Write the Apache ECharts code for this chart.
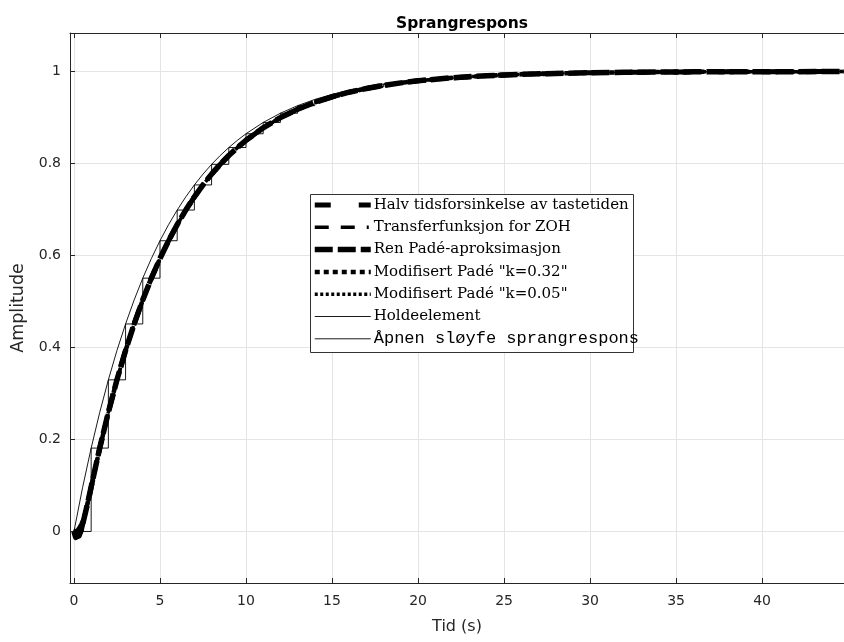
<!DOCTYPE html>
<html>
<head>
<meta charset="utf-8">
<script src="https://cdn.jsdelivr.net/npm/echarts@6/dist/echarts.min.js"></script>
<style>
html,body{margin:0;padding:0;background:#fff;}
#chart{width:844px;height:642px;}
</style>
</head>
<body>
<div id="chart"></div>
<script>
// ---- data ----
const seriesNames = [
  'Halv tidsforsinkelse av tastetiden',
  'Transferfunksjon for ZOH',
  'Ren Padé-aproksimasjon',
  'Modifisert Padé "k=0.32"',
  'Modifisert Padé "k=0.05"',
  'Holdeelement',
  'Åpnen sløyfe sprangrespons'
];

// time grid for the open-loop curve
const timeOpen = [0,0.5,1,1.5,2,2.5,3,3.5,4,4.5,5,5.5,6,6.5,7,7.5,8,8.5,9,9.5,10,
  11,12,13,14,15,16,17,18,19,20,22,24,26,28,30,32,34,36,38,40,42,44,45];
const openLoop = [0,0.0952,0.1813,0.2592,0.3297,0.3935,0.4512,0.5034,0.5507,0.5934,0.6321,
  0.6671,0.6988,0.7275,0.7534,0.7769,0.7981,0.8173,0.8347,0.8504,0.8647,
  0.8892,0.9093,0.9257,0.9392,0.9502,0.9592,0.9666,0.9727,0.9776,0.9817,
  0.9877,0.9918,0.9945,0.9963,0.9975,0.9983,0.9989,0.9993,0.9995,0.9997,0.9998,0.9998,0.9999];

// time grid for the delayed / approximated curves
const timeDelay = [0,0.1,0.2,0.3,0.4,0.5,0.75,1,1.5,2,2.5,3,3.5,4,4.5,5,5.5,6,6.5,7,7.5,8,8.5,9,9.5,10,
  11,12,13,14,15,16,17,18,19,20,22,24,26,28,30,32,34,36,38,40,42,44,45];
const halfDelay = [0,0,0,0,0,0,0.0488,0.0952,0.1813,0.2592,0.3297,0.3935,0.4512,0.5034,0.5507,0.5934,
  0.6321,0.6671,0.6988,0.7275,0.7534,0.7769,0.7981,0.8173,0.8347,0.8504,
  0.8775,0.8997,0.9179,0.9328,0.9450,0.9550,0.9631,0.9698,0.9753,0.9798,
  0.9864,0.9909,0.9939,0.9959,0.9973,0.9982,0.9988,0.9992,0.9994,0.9996,0.9997,0.9998,0.9999];
const zohTransfer = [0,0.0010,0.0039,0.0088,0.0157,0.0242,0.0536,0.0937,0.1799,0.2580,0.3286,0.3925,0.4503,0.5026,0.5499,0.5927,
  0.6315,0.6666,0.6983,0.7270,0.7530,0.7765,0.7978,0.8170,0.8344,0.8502,
  0.8773,0.8996,0.9178,0.9327,0.9449,0.9549,0.9631,0.9698,0.9752,0.9797,
  0.9864,0.9909,0.9939,0.9959,0.9973,0.9982,0.9988,0.9992,0.9994,0.9996,0.9997,0.9998,0.9999];
const padePure = [0,-0.0127,-0.0145,-0.0091,0.0012,0.0144,0.0541,0.0972,0.1817,0.2593,0.3298,0.3936,0.4513,0.5035,0.5507,0.5935,
  0.6322,0.6671,0.6988,0.7275,0.7534,0.7769,0.7981,0.8173,0.8347,0.8504,
  0.8775,0.8997,0.9179,0.9328,0.9450,0.9550,0.9631,0.9698,0.9753,0.9798,
  0.9864,0.9909,0.9939,0.9959,0.9973,0.9982,0.9988,0.9992,0.9994,0.9996,0.9997,0.9998,0.9999];
const padeK032 = [0,-0.0080,-0.0090,-0.0050,0.0040,0.0160,0.0550,0.0970,0.1810,0.2592,0.3297,0.3935,0.4512,0.5034,0.5507,0.5934,
  0.6321,0.6671,0.6988,0.7275,0.7534,0.7769,0.7981,0.8173,0.8347,0.8504,
  0.8775,0.8997,0.9179,0.9328,0.9450,0.9550,0.9631,0.9698,0.9753,0.9798,
  0.9864,0.9909,0.9939,0.9959,0.9973,0.9982,0.9988,0.9992,0.9994,0.9996,0.9997,0.9998,0.9999];
const padeK005 = [0,-0.0020,-0.0010,0.0020,0.0080,0.0170,0.0530,0.0960,0.1810,0.2592,0.3297,0.3935,0.4512,0.5034,0.5507,0.5934,
  0.6321,0.6671,0.6988,0.7275,0.7534,0.7769,0.7981,0.8173,0.8347,0.8504,
  0.8775,0.8997,0.9179,0.9328,0.9450,0.9550,0.9631,0.9698,0.9753,0.9798,
  0.9864,0.9909,0.9939,0.9959,0.9973,0.9982,0.9988,0.9992,0.9994,0.9996,0.9997,0.9998,0.9999];

// zero-order hold staircase (sample period 1 s)
const holdTimes = [0,1,2,3,4,5,6,7,8,9,10,11,12,13,14,15,16,17,18,19,20,21,22,23,24,25,26,27,28,29,30,
  31,32,33,34,35,36,37,38,39,40,41,42,43,44,45];
const holdValues = [0,0.1813,0.3297,0.4512,0.5507,0.6321,0.6988,0.7534,0.7981,0.8347,0.8647,
  0.8892,0.9093,0.9257,0.9392,0.9502,0.9592,0.9666,0.9727,0.9776,0.9817,
  0.9850,0.9877,0.9899,0.9918,0.9933,0.9945,0.9955,0.9963,0.9970,0.9975,
  0.9980,0.9983,0.9986,0.9989,0.9991,0.9993,0.9994,0.9995,0.9996,0.9997,0.9997,0.9998,0.9998,0.9998,0.9999];

const xRange = [-0.23, 44.76];
const yRange = [-0.112, 1.0837];

const pairs = (ts, ys) => ts.map((t, i) => [t, ys[i]]);

const chart = echarts.init(document.getElementById('chart'), null, {renderer: 'canvas'});
const AX = '#262626';
const GRIDC = '#e4e4e4';
const sans = 'DejaVu Sans, Liberation Sans, Arial, sans-serif';
const serif = 'DejaVu Serif, serif';
const mono = 'Liberation Mono, Courier New, monospace';

function lineSeries(name, data, width, dash, extra) {
  return Object.assign({
    name: name, type: 'line', data: data, symbol: 'none', showSymbol: false,
    animation: false, silent: true, clip: true,
    lineStyle: {color: '#000', width: width, type: dash, cap: 'butt', join: 'round'},
    itemStyle: {color: '#000'}
  }, extra || {});
}

const option = {
  backgroundColor: '#fff',
  animation: false,
  title: {
    text: 'Sprangrespons', left: 457, top: 11, textAlign: 'center',
    textStyle: {fontFamily: sans, fontSize: 15.5, fontWeight: 'bold', color: '#000'}
  },
  grid: {left: 70, right: -10, top: 33, bottom: 59, containLabel: false},
  xAxis: [{
    type: 'value', min: xRange[0], max: xRange[1], splitNumber: 9,
    name: 'Tid (s)', nameLocation: 'middle', nameGap: 36,
    nameTextStyle: {fontFamily: sans, fontSize: 16, color: AX},
    axisLine: {show: true, onZero: false, lineStyle: {color: AX, width: 1}},
    axisTick: {show: true, inside: true, length: 5, lineStyle: {color: AX}},
    axisLabel: {fontFamily: sans, fontSize: 14, color: AX, margin: 11, showMinLabel: false, showMaxLabel: false},
    splitLine: {show: true, lineStyle: {color: GRIDC, width: 1}}
  }, {
    type: 'value', position: 'top', min: xRange[0], max: xRange[1], splitNumber: 9,
    axisLine: {show: true, onZero: false, lineStyle: {color: AX, width: 1}},
    axisTick: {show: true, inside: true, length: 5, lineStyle: {color: AX}},
    axisLabel: {show: false},
    splitLine: {show: false}
  }],
  yAxis: [{
    type: 'value', min: yRange[0], max: yRange[1], splitNumber: 6,
    name: 'Amplitude', nameLocation: 'middle', nameGap: 40, nameRotate: 90,
    nameTextStyle: {fontFamily: sans, fontSize: 17.5, color: AX},
    axisLine: {show: true, onZero: false, lineStyle: {color: AX, width: 1}},
    axisTick: {show: true, inside: true, length: 5, lineStyle: {color: AX}},
    axisLabel: {fontFamily: sans, fontSize: 14, color: AX, margin: 9, showMinLabel: false, showMaxLabel: false},
    splitLine: {show: true, lineStyle: {color: GRIDC, width: 1}}
  }],
  legend: {
    show: true, orient: 'vertical', left: 312, top: 196, padding: 0,
    itemWidth: 56, itemHeight: 18, itemGap: 4.3, selectedMode: false,
    z: 60,
    itemStyle: {color: 'rgba(0,0,0,0)', borderColor: 'rgba(0,0,0,0)', borderWidth: 0},
    lineStyle: {width: 'inherit', type: 'inherit'},
    textStyle: {fontFamily: serif, fontSize: 15, lineHeight: 18, color: '#000', padding: [0,0,0,-2]},
    data: seriesNames.map((n, i) => i === 6
      ? {name: n, textStyle: {fontFamily: mono, fontSize: 17, lineHeight: 18, color: '#000'}}
      : {name: n})
  },
  graphic: {
    elements: [{
      type: 'rect', left: 310, top: 194, z: 50,
      shape: {width: 323, height: 158},
      style: {fill: '#fff', stroke: '#333', lineWidth: 1}
    }]
  },
  series: [
    lineSeries(seriesNames[0], pairs(timeDelay, halfDelay), 5, [16, 28]),
    lineSeries(seriesNames[1], pairs(timeDelay, zohTransfer), 3.5, [14, 12, 14, 12, 2, 12]),
    lineSeries(seriesNames[2], pairs(timeDelay, padePure), 5.5, [18, 5]),
    lineSeries(seriesNames[3], pairs(timeDelay, padeK032), 4.5, [5, 4]),
    lineSeries(seriesNames[4], pairs(timeDelay, padeK005), 3.5, [3, 2.5]),
    lineSeries(seriesNames[5], pairs(holdTimes, holdValues), 0.9, 'solid', {step: 'end'}),
    lineSeries(seriesNames[6], pairs(timeOpen, openLoop), 0.9, 'solid')
  ]
};
chart.setOption(option);
</script>
</body>
</html>
